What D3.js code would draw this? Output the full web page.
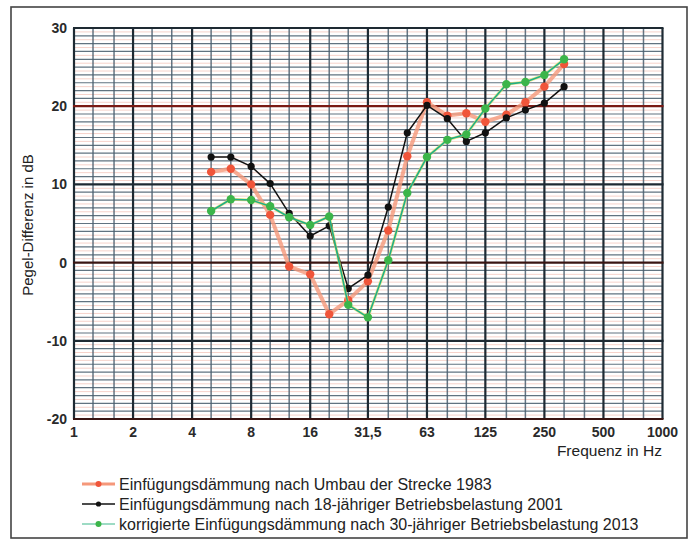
<!DOCTYPE html>
<html>
<head>
<meta charset="utf-8">
<script src="https://cdn.jsdelivr.net/npm/d3@7"></script>
<style>
  html, body { margin: 0; padding: 0; background: #fff; }
  svg { display: block; font-family: "Liberation Sans", Arial, sans-serif; }
</style>
</head>
<body>
<svg id="chart" width="694" height="541"></svg>
<script>
// Terzband-Mittenfrequenzen (Hz)
const frequencies = [5, 6.3, 8, 10, 12.5, 16, 20, 25, 31.5, 40, 50, 63, 80, 100, 125, 160, 200, 250, 315];

// Pegel-Differenz in dB je Messreihe
const values1983 = [11.6, 12.0, 10.0, 6.1, -0.5, -1.5, -6.6, -4.8, -2.4, 4.1, 13.6, 20.5, 18.8, 19.1, 18.0, 18.9, 20.5, 22.5, 25.4];
const values2001 = [13.5, 13.5, 12.3, 10.1, 6.3, 3.4, 4.7, -3.3, -1.6, 7.1, 16.6, 20.1, 18.4, 15.5, 16.6, 18.5, 19.5, 20.4, 22.5];
const values2013 = [6.6, 8.1, 8.0, 7.2, 5.8, 4.8, 5.9, -5.4, -7.0, 0.3, 8.9, 13.5, 15.7, 16.4, 19.7, 22.8, 23.1, 24.0, 26.0];

const seriesNames = [
  "Einfügungsdämmung nach Umbau der Strecke 1983",
  "Einfügungsdämmung nach 18-jähriger Betriebsbelastung 2001",
  "korrigierte Einfügungsdämmung nach 30-jähriger Betriebsbelastung 2013"
];

// Achsenbeschriftungen
const xTickValues = [1, 2, 4, 8, 16, 31.5, 63, 125, 250, 500, 1000];
const xTickLabels = ["1", "2", "4", "8", "16", "31,5", "63", "125", "250", "500", "1000"];
const xThirdOctaves = [1.25, 1.6, 2.5, 3.15, 5, 6.3, 10, 12.5, 20, 25, 40, 50, 80, 100, 160, 200, 315, 400, 630, 800];
const yTickValues = [30, 20, 10, 0, -10, -20];

const svg = d3.select("#chart");

const plotLeft = 74, plotRight = 662.5, plotTop = 28, plotBottom = 419;
const x = d3.scaleLog().base(2).domain([1, 1000]).range([plotLeft, plotRight]);
const y = d3.scaleLinear().domain([-20, 30]).range([plotBottom, plotTop]);

// Rahmen
svg.append("rect")
  .attr("x", 11).attr("y", 7).attr("width", 676).attr("height", 531)
  .attr("fill", "#fff").attr("stroke", "#444").attr("stroke-width", 1.6);

const grid = svg.append("g");

// feine rote Linien (0,5 dB)
d3.range(-19.5, 30, 1).forEach(v => {
  grid.append("line")
    .attr("x1", plotLeft).attr("x2", plotRight).attr("y1", y(v)).attr("y2", y(v))
    .attr("stroke", "#f6d2ca").attr("stroke-width", 1);
});

// 1-dB-Linien
d3.range(-20, 31, 1).filter(v => v % 10 !== 0).forEach(v => {
  grid.append("line")
    .attr("x1", plotLeft).attr("x2", plotRight).attr("y1", y(v)).attr("y2", y(v))
    .attr("stroke", "#465b6b").attr("stroke-width", 1.2).attr("opacity", 0.85);
});

// Terzlinien
xThirdOctaves.forEach(f => {
  grid.append("line")
    .attr("x1", x(f)).attr("x2", x(f)).attr("y1", plotTop).attr("y2", plotBottom)
    .attr("stroke", "#4a5e6e").attr("stroke-width", 1.5).attr("opacity", 0.85);
});

// Oktavlinien
xTickValues.forEach(f => {
  grid.append("line")
    .attr("x1", x(f)).attr("x2", x(f)).attr("y1", plotTop).attr("y2", plotBottom)
    .attr("stroke", "#1e2a33").attr("stroke-width", 2.2);
});

// 10-dB-Linien
const majorColor = { "30": "#1e2a33", "20": "#7a1a14", "10": "#1e2a33", "0": "#3a1512", "-10": "#1e2a33", "-20": "#3a1512" };
yTickValues.forEach(v => {
  grid.append("line")
    .attr("x1", plotLeft - 1).attr("x2", plotRight + 1).attr("y1", y(v)).attr("y2", y(v))
    .attr("stroke", majorColor[String(v)]).attr("stroke-width", 2.2);
});

// Achsenbeschriftung Y
svg.append("g").selectAll("text").data(yTickValues).join("text")
  .attr("x", 67).attr("y", d => y(d)).attr("dy", "0.36em")
  .attr("text-anchor", "end").attr("font-size", 14).attr("font-weight", "bold")
  .attr("fill", "#2a2a2a")
  .text(d => d);

// Achsenbeschriftung X
svg.append("g").selectAll("text").data(xTickValues).join("text")
  .attr("x", d => x(d)).attr("y", 437)
  .attr("text-anchor", "middle").attr("font-size", 14).attr("font-weight", "bold")
  .attr("fill", "#2a2a2a")
  .text((d, i) => xTickLabels[i]);

svg.append("text")
  .attr("x", 662).attr("y", 456).attr("text-anchor", "end")
  .attr("font-size", 15.5).attr("fill", "#222")
  .text("Frequenz in Hz");

svg.append("text")
  .attr("transform", "translate(33,225) rotate(-90)")
  .attr("text-anchor", "middle").attr("font-size", 15).attr("fill", "#222")
  .text("Pegel-Differenz in dB");

// Messreihen
const series = [
  { name: seriesNames[0], values: values1983, line: "#f5987a", lineWidth: 4, lineOpacity: 0.8, dot: "#f0553a", r: 4.2 },
  { name: seriesNames[1], values: values2001, line: "#111", lineWidth: 1.5, lineOpacity: 1, dot: "#111", r: 3.6 },
  { name: seriesNames[2], values: values2013, line: "#1fae86", lineWidth: 1.6, lineOpacity: 1, dot: "#3cb54a", r: 4.2 }
];

const lineGen = d3.line().x(d => x(d.f)).y(d => y(d.v));

series.forEach((s, si) => {
  const pts = frequencies.map((f, i) => ({ f, v: s.values[i] }));
  const g = svg.append("g");
  if (si === 2) {
    g.append("path").datum(pts)
      .attr("d", lineGen).attr("fill", "none")
      .attr("stroke", "#e8e060").attr("stroke-width", 3).attr("opacity", 0.7);
  }
  g.append("path").datum(pts)
    .attr("d", lineGen).attr("fill", "none")
    .attr("stroke", s.line).attr("stroke-width", s.lineWidth)
    .attr("stroke-opacity", s.lineOpacity).attr("stroke-linejoin", "round");
  g.selectAll("circle").data(pts).join("circle")
    .attr("cx", d => x(d.f)).attr("cy", d => y(d.v)).attr("r", s.r)
    .attr("fill", s.dot);
});

// Legende
const legend = svg.append("g");
const legendY = [484, 504, 524];
series.forEach((s, i) => {
  const ly = legendY[i];
  legend.append("line")
    .attr("x1", 82).attr("x2", 115).attr("y1", ly).attr("y2", ly)
    .attr("stroke", i === 0 ? "#f5987a" : (i === 2 ? "#7ccfb0" : "#111"))
    .attr("stroke-width", i === 0 ? 3 : 1.6);
  legend.append("circle").attr("cx", 98.5).attr("cy", ly).attr("r", i === 1 ? 2.6 : 3).attr("fill", s.dot);
  legend.append("text")
    .attr("x", 119).attr("y", ly).attr("dy", "0.36em")
    .attr("font-size", 16).attr("fill", "#222")
    .text(s.name);
});
</script>
</body>
</html>
